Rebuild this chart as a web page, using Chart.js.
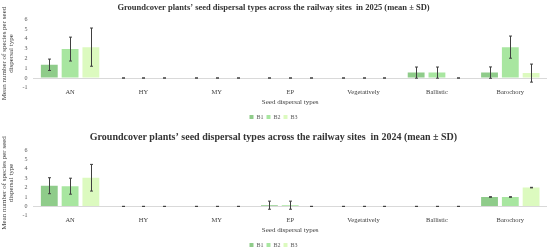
<!DOCTYPE html>
<html>
<head>
<meta charset="utf-8">
<script src="https://cdn.jsdelivr.net/npm/chart.js@4"></script>
<style>
    html, body { margin: 0; padding: 0; background: #ffffff; }
    canvas { display: block; }
</style>
</head>
<body>
<canvas id="chart2025" width="550" height="124"></canvas>
<canvas id="chart2024" width="550" height="125"></canvas>
<script>
var categories = ['AN', 'HY', 'MY', 'EP', 'Vegetatively', 'Ballistic', 'Barochory'];
var seriesNames = ['B1', 'B2', 'B3'];
var seriesColors = ['#8fcc8a', '#a8e6a0', '#dcfabf'];
var yTicks = [-1, 0, 1, 2, 3, 4, 5, 6];

// 2025 means and SD
var mean2025B1 = [1.35, 0, 0, 0, 0, 0.55, 0.55];
var mean2025B2 = [2.95, 0, 0, 0, 0, 0.55, 3.15];
var mean2025B3 = [3.15, 0, 0, 0, 0, 0, 0.5];
var sd2025B1 = [0.58, 0, 0, 0, 0, 0.57, 0.58];
var sd2025B2 = [1.22, 0, 0, 0, 0, 0.57, 1.13];
var sd2025B3 = [1.95, 0, 0, 0, 0, 0, 0.92];

// 2024 means and SD
var mean2024B1 = [2.2, 0, 0, 0.13, 0, 0, 1.0];
var mean2024B2 = [2.15, 0, 0, 0.13, 0, 0, 1.0];
var mean2024B3 = [3.05, 0, 0, 0, 0, 0, 2.0];
var sd2024B1 = [0.85, 0, 0, 0.43, 0, 0, 0.03];
var sd2024B2 = [0.85, 0, 0, 0.43, 0, 0, 0.03];
var sd2024B3 = [1.42, 0, 0, 0, 0, 0, 0.03];

var serif = "'Liberation Serif', 'DejaVu Serif', serif";

// draws the SD whiskers on top of each bar
var errorBarPlugin = {
    id: 'errorBars',
    afterDatasetsDraw: function(chart) {
        var ctx = chart.ctx;
        var yScale = chart.scales.y;
        ctx.save();
        ctx.strokeStyle = '#404040';
        ctx.lineWidth = 1;
        chart.data.datasets.forEach(function(dataset, i) {
            var meta = chart.getDatasetMeta(i);
            meta.data.forEach(function(bar, j) {
                var mean = dataset.data[j];
                var sd = dataset.sd[j];
                var x = Math.round(bar.x) + 0.5;
                var top = yScale.getPixelForValue(mean + sd);
                var bottom = yScale.getPixelForValue(mean - sd);
                ctx.beginPath();
                ctx.moveTo(x, top);
                ctx.lineTo(x, bottom);
                ctx.moveTo(x - 1.5, top);
                ctx.lineTo(x + 1.5, top);
                ctx.moveTo(x - 1.5, bottom);
                ctx.lineTo(x + 1.5, bottom);
                ctx.stroke();
            });
        });
        ctx.restore();
    }
};

function makeChart(id, titleText, titleSize, means, sds, padTop, titleGap, padBottom) {
    var datasets = [];
    for (var i = 0; i < seriesNames.length; i++) {
        datasets.push({
            label: seriesNames[i],
            data: means[i],
            sd: sds[i],
            backgroundColor: seriesColors[i],
            borderWidth: 0,
            categoryPercentage: 0.85,
            barPercentage: 0.81
        });
    }

    var config = {
        type: 'bar',
        data: {
            labels: categories,
            datasets: datasets
        },
        options: {
            responsive: false,
            animation: false,
            layout: {
                padding: { left: 0, right: 3, top: padTop, bottom: padBottom }
            },
            plugins: {
                title: {
                    display: true,
                    text: titleText,
                    color: '#333333',
                    font: { family: serif, size: titleSize, weight: 'bold' },
                    padding: { top: 0, bottom: titleGap }
                },
                legend: {
                    position: 'bottom',
                    labels: {
                        boxWidth: 4,
                        boxHeight: 4,
                        padding: 3,
                        color: '#595959',
                        font: { family: serif, size: 6 }
                    }
                },
                tooltip: { enabled: false }
            },
            scales: {
                x: {
                    grid: { display: false, drawTicks: false },
                    border: { display: false },
                    ticks: {
                        color: '#404040',
                        padding: 1,
                        autoSkip: false,
                        maxRotation: 0,
                        font: { family: serif, size: 6.5 }
                    },
                    title: {
                        display: true,
                        text: 'Seed dispersal types',
                        color: '#404040',
                        padding: { top: 0, bottom: 5 },
                        font: { family: serif, size: 7 }
                    }
                },
                y: {
                    min: yTicks[0],
                    max: yTicks[yTicks.length - 1],
                    afterBuildTicks: function(axis) {
                        axis.ticks = yTicks.map(function(v) { return { value: v }; });
                    },
                    grid: {
                        drawTicks: false,
                        color: function(c) {
                            return c.tick && c.tick.value === 0 ? '#d9d9d9' : 'rgba(0,0,0,0)';
                        }
                    },
                    border: { display: false },
                    ticks: {
                        color: '#595959',
                        padding: 6,
                        autoSkip: false,
                        font: { family: serif, size: 6 }
                    },
                    title: {
                        display: true,
                        text: ['Mean number of species per seed', 'dispersal type'],
                        color: '#404040',
                        padding: { top: 0, bottom: 1 },
                        font: { family: serif, size: 7, lineHeight: 1.1 }
                    }
                }
            }
        },
        plugins: [errorBarPlugin]
    };

    var ctx = document.getElementById(id).getContext('2d');
    return new Chart(ctx, config);
}

makeChart('chart2025',
    "Groundcover plants\u2019 seed dispersal types across the railway sites  in 2025 (mean \u00b1 SD)",
    8.5,
    [mean2025B1, mean2025B2, mean2025B3],
    [sd2025B1, sd2025B2, sd2025B3],
    3, 6, -6);

makeChart('chart2024',
    "Groundcover plants\u2019 seed dispersal types across the railway sites  in 2024 (mean \u00b1 SD)",
    10,
    [mean2024B1, mean2024B2, mean2024B3],
    [sd2024B1, sd2024B2, sd2024B3],
    7, 7, -9);
</script>
</body>
</html>
